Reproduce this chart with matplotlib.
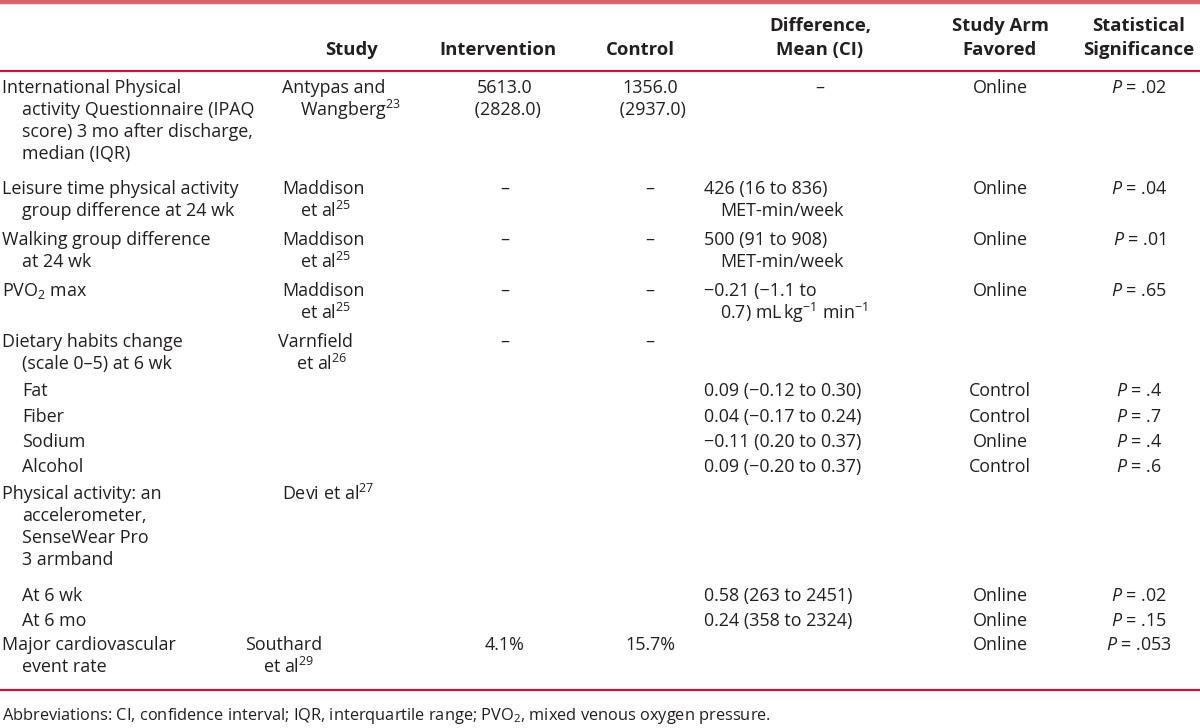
import matplotlib
matplotlib.use("Agg")
import matplotlib.pyplot as plt

plt.rcParams['font.family'] = ['Open Sans', 'DejaVu Sans']
plt.rcParams['mathtext.fontset'] = 'custom'
plt.rcParams['mathtext.rm'] = 'Open Sans'
plt.rcParams['mathtext.it'] = 'Open Sans:italic'
plt.rcParams['mathtext.bf'] = 'Open Sans:bold'

INK = "#231f20"; RULE = "#c4173f"; TOPRULE = "#d9646c"

headers = [["", ""], ["", "Study"], ["", "Intervention"], ["", "Control"],
           ["Difference,", "Mean (CI)"], ["Study Arm", "Favored"], ["Statistical", "Significance"]]

outcomes = [
    ["International Physical", "activity Questionnaire (IPAQ", "score) 3 mo after discharge,", "median (IQR)"],
    ["Leisure time physical activity", "group difference at 24 wk"],
    ["Walking group difference", "at 24 wk"],
    ["PVO$_2$ max"],
    ["Dietary habits change", "(scale 0–5) at 6 wk"],
    ["Fat"], ["Fiber"], ["Sodium"], ["Alcohol"],
    ["Physical activity: an", "accelerometer,", "SenseWear Pro", "3 armband"],
    ["At 6 wk"], ["At 6 mo"],
    ["Major cardiovascular", "event rate"],
]
subitem = [False, False, False, False, False, True, True, True, True, False, True, True, False]
studies = [["Antypas and", "Wangberg$^{23}$"], ["Maddison", "et al$^{25}$"], ["Maddison", "et al$^{25}$"],
           ["Maddison", "et al$^{25}$"], ["Varnfield", "et al$^{26}$"], [], [], [], [],
           ["Devi et al$^{27}$"], [], [], ["Southard", "et al$^{29}$"]]
intervention = [["5613.0", " (2828.0)"], ["–"], ["–"], ["–"], ["–"], [], [], [], [], [], [], [], ["4.1%"]]
control = [["1356.0", " (2937.0)"], ["–"], ["–"], ["–"], ["–"], [], [], [], [], [], [], [], ["15.7%"]]
difference = [["–"], ["426 (16 to 836)", "MET-min/week"], ["500 (91 to 908)", "MET-min/week"],
              ["−0.21 (−1.1 to", "0.7) mL$\\,$kg$^{-1}$ min$^{-1}$"], [],
              ["0.09 (−0.12 to 0.30)"], ["0.04 (−0.17 to 0.24)"], ["−0.11 (0.20 to 0.37)"],
              ["0.09 (−0.20 to 0.37)"], [], ["0.58 (263 to 2451)"], ["0.24 (358 to 2324)"], []]
favored = ["Online", "Online", "Online", "Online", "", "Control", "Control", "Online", "Control",
           "", "Online", "Online", "Online"]
pvalues = [".02", ".04", ".01", ".65", "", ".4", ".7", ".4", ".6", "", ".02", ".15", ".053"]
footnote = "Abbreviations: CI, confidence interval; IQR, interquartile range; PVO$_2$, mixed venous oxygen pressure."

# layout (pixels)
row_y = [88, 189, 240, 291, 342, 391, 417, 442, 467, 494, 596, 621, 645]
LH = 22
study_x = [282, 282, 282, 282, 278, 0, 0, 0, 0, 282, 0, 0, 245]

fig = plt.figure(figsize=(12, 7.28), dpi=100)
ax = fig.add_axes([0, 0, 1, 1]); ax.set_xlim(0, 1200); ax.set_ylim(728, 0); ax.axis("off")

FS = 12.9
def t(x, y, s, ha="left", **kw):
    ax.text(x, y, s, ha=ha, va="center", fontsize=kw.pop("fs", FS), color=INK, **kw)

# rules
ax.plot([0, 1200], [1.5, 1.5], color=TOPRULE, lw=3.2, solid_capstyle="butt")
ax.plot([0, 1200], [71, 71], color=RULE, lw=1.6, solid_capstyle="butt")
ax.plot([0, 1200], [690, 690], color=RULE, lw=1.6, solid_capstyle="butt")

# header
hx = [(0, "left"), (378, "right"), (498, "center"), (640, "center"), (820, "center"), (1000, "center"), (1139, "center")]
for (x, ha), (l1, l2) in zip(hx, headers):
    if l1: t(x, 26, l1, ha=ha, fontweight="bold", fs=13.3)
    if l2: t(x, 50, l2, ha=ha, fontweight="bold", fs=13.3)

for i, y in enumerate(row_y):
    for k, line in enumerate(outcomes[i]):
        x = 22 if (subitem[i] or k > 0) else 2
        t(x, y + k * LH, line)
    for k, line in enumerate(studies[i]):
        t(study_x[i] + (18 if k else 0), y + k * LH, line)
    for k, line in enumerate(intervention[i]):
        t(505, y + k * LH, line, ha="center")
    for k, line in enumerate(control[i]):
        t(650, y + k * LH, line, ha="center")
    for k, line in enumerate(difference[i]):
        if line == "–":
            t(820, y, line, ha="center")
        else:
            t(704 + (16 if k else 0), y + k * LH, line)
    if favored[i]:
        t(1000, y, favored[i], ha="center")
    if pvalues[i]:
        t(1139, y, "$P$ = " + pvalues[i], ha="center")

t(2, 716, footnote, fs=11.8)

fig.savefig("out.png", dpi=100, facecolor="white")
